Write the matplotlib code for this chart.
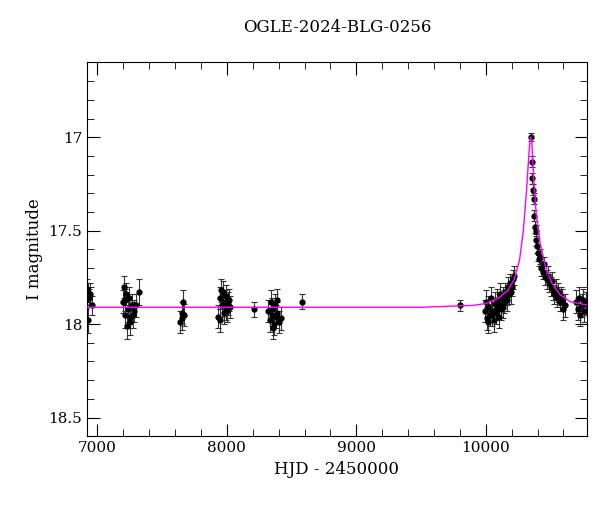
import matplotlib
matplotlib.use("Agg")
import matplotlib.pyplot as plt
from matplotlib.ticker import MultipleLocator, FormatStrFormatter

# observed points: HJD - 2450000, I magnitude, error
hjd = [
    6905, 6915, 6925, 6935, 6945, 6955, 6930, 6920,
    7195, 7205, 7215, 7225, 7235, 7245, 7255, 7265, 7275, 7285, 7300, 7230, 7250, 7210, 7320,
    7640, 7650, 7660, 7670, 7655,
    7930, 7945, 7955, 7965, 7975, 7985, 7995, 8005, 8015, 8025, 7950, 7970, 7990, 8010,
    8210,
    8320, 8330, 8340, 8350, 8360, 8370, 8380, 8390, 8400, 8345, 8365, 8385, 8420,
    8580,
    9800,
    9990, 10000, 10010, 10020, 10030, 10040, 10050, 10060, 10070, 10080, 10090, 10100,
    10110, 10120, 10130, 10140, 10150, 10160, 10170, 10180, 10190, 10200, 10210, 10220,
    10015, 10045, 10075, 10105, 10135, 10165, 10195,
    10350, 10355, 10360, 10365, 10370, 10375, 10380, 10385, 10390, 10395, 10400, 10410,
    10420, 10430, 10440, 10450, 10460, 10470, 10480, 10490, 10500, 10510, 10520, 10530,
    10540, 10550, 10560, 10570, 10580, 10590, 10600, 10610,
    10700, 10710, 10720, 10730, 10740, 10750, 10760, 10770,
]
mag = [
    17.84, 17.87, 17.83, 17.86, 17.84, 17.90, 17.98, 17.81,
    17.88, 17.80, 17.95, 17.84, 17.92, 17.86, 17.99, 17.90, 17.95, 17.93, 17.90, 18.01, 17.96, 17.87, 17.83,
    17.99, 17.94, 17.88, 17.95, 17.97,
    17.96, 17.86, 17.82, 17.90, 17.94, 17.88, 17.85, 17.93, 17.87, 17.91, 17.98, 17.83, 17.92, 17.89,
    17.92,
    17.93, 17.98, 17.88, 17.95, 18.02, 17.90, 17.96, 17.87, 17.99, 17.92, 18.00, 17.94, 17.97,
    17.88,
    17.90,
    17.93, 17.88, 17.97, 17.91, 17.95, 17.86, 17.93, 17.98, 17.89, 17.94, 17.87, 17.90,
    17.84, 17.92, 17.86, 17.88, 17.83, 17.85, 17.80, 17.84, 17.78, 17.80, 17.76, 17.74,
    17.99, 17.95, 17.92, 17.96, 17.91, 17.87, 17.83,
    17.00, 17.13, 17.22, 17.28, 17.33, 17.42, 17.48, 17.50, 17.55, 17.58, 17.62, 17.65,
    17.64, 17.70, 17.72, 17.68, 17.75, 17.76, 17.74, 17.78, 17.80, 17.77, 17.82, 17.84,
    17.81, 17.86, 17.83, 17.88, 17.85, 17.87, 17.92, 17.90,
    17.88, 17.92, 17.86, 17.95, 17.90, 17.87, 17.93, 17.89,
]
err = [
    0.05, 0.05, 0.05, 0.05, 0.06, 0.05, 0.07, 0.05,
    0.06, 0.06, 0.07, 0.06, 0.07, 0.06, 0.07, 0.06, 0.07, 0.06, 0.06, 0.07, 0.06, 0.06, 0.07,
    0.06, 0.06, 0.06, 0.06, 0.06,
    0.06, 0.06, 0.06, 0.06, 0.06, 0.06, 0.06, 0.06, 0.06, 0.06, 0.06, 0.06, 0.06, 0.06,
    0.04,
    0.06, 0.06, 0.06, 0.06, 0.06, 0.06, 0.06, 0.06, 0.06, 0.06, 0.06, 0.06, 0.06,
    0.04,
    0.03,
    0.06, 0.06, 0.06, 0.06, 0.06, 0.06, 0.06, 0.06, 0.06, 0.06, 0.06, 0.06,
    0.06, 0.06, 0.06, 0.06, 0.05, 0.05, 0.05, 0.05, 0.05, 0.05, 0.05, 0.05,
    0.06, 0.06, 0.06, 0.06, 0.06, 0.06, 0.06,
    0.02, 0.03, 0.03, 0.03, 0.03, 0.03, 0.03, 0.03, 0.03, 0.04, 0.04, 0.04,
    0.04, 0.04, 0.04, 0.04, 0.04, 0.05, 0.05, 0.05, 0.05, 0.05, 0.05, 0.05,
    0.05, 0.05, 0.05, 0.05, 0.05, 0.06, 0.06, 0.06,
    0.06, 0.06, 0.06, 0.06, 0.06, 0.06, 0.06, 0.06,
]

# model light curve
model_hjd = [6900, 9500, 9900, 10000, 10100, 10170, 10220, 10260, 10290, 10315,
             10335, 10345, 10355, 10370, 10390, 10420, 10460, 10510, 10570, 10650, 10800]
model_mag = [17.91, 17.91, 17.90, 17.89, 17.86, 17.82, 17.76, 17.66, 17.50, 17.28,
             17.07, 17.00, 17.02, 17.22, 17.42, 17.57, 17.69, 17.78, 17.84, 17.88, 17.90]

plt.rcParams["font.family"] = "DejaVu Serif"
fig, ax = plt.subplots(figsize=(6.0, 5.12), dpi=100)
fig.subplots_adjust(left=0.145, right=0.978, top=0.878, bottom=0.148)

ax.plot(model_hjd, model_mag, color="magenta", lw=1.0, zorder=3)
ax.errorbar(hjd, mag, yerr=err, fmt="o", color="black", ms=3.5, elinewidth=0.8,
            ecolor="#333333", capsize=2.5, capthick=0.8, zorder=2)

ax.set_xlim(6920, 10780)
ax.set_ylim(18.6, 16.6)
ax.xaxis.set_major_locator(MultipleLocator(1000))
ax.xaxis.set_minor_locator(MultipleLocator(200))
ax.yaxis.set_major_locator(MultipleLocator(0.5))
ax.yaxis.set_minor_locator(MultipleLocator(0.1))
ax.yaxis.set_major_formatter(FormatStrFormatter("%g"))
ax.tick_params(which="both", direction="in", top=True, right=True, labelsize=11)
ax.tick_params(which="major", length=9)
ax.tick_params(which="minor", length=5)
ax.set_xlabel("HJD - 2450000", fontsize=12)
ax.set_ylabel("I magnitude", fontsize=12)
ax.set_title("OGLE-2024-BLG-0256", fontsize=12, pad=22)

fig.savefig("out.png", dpi=100)
